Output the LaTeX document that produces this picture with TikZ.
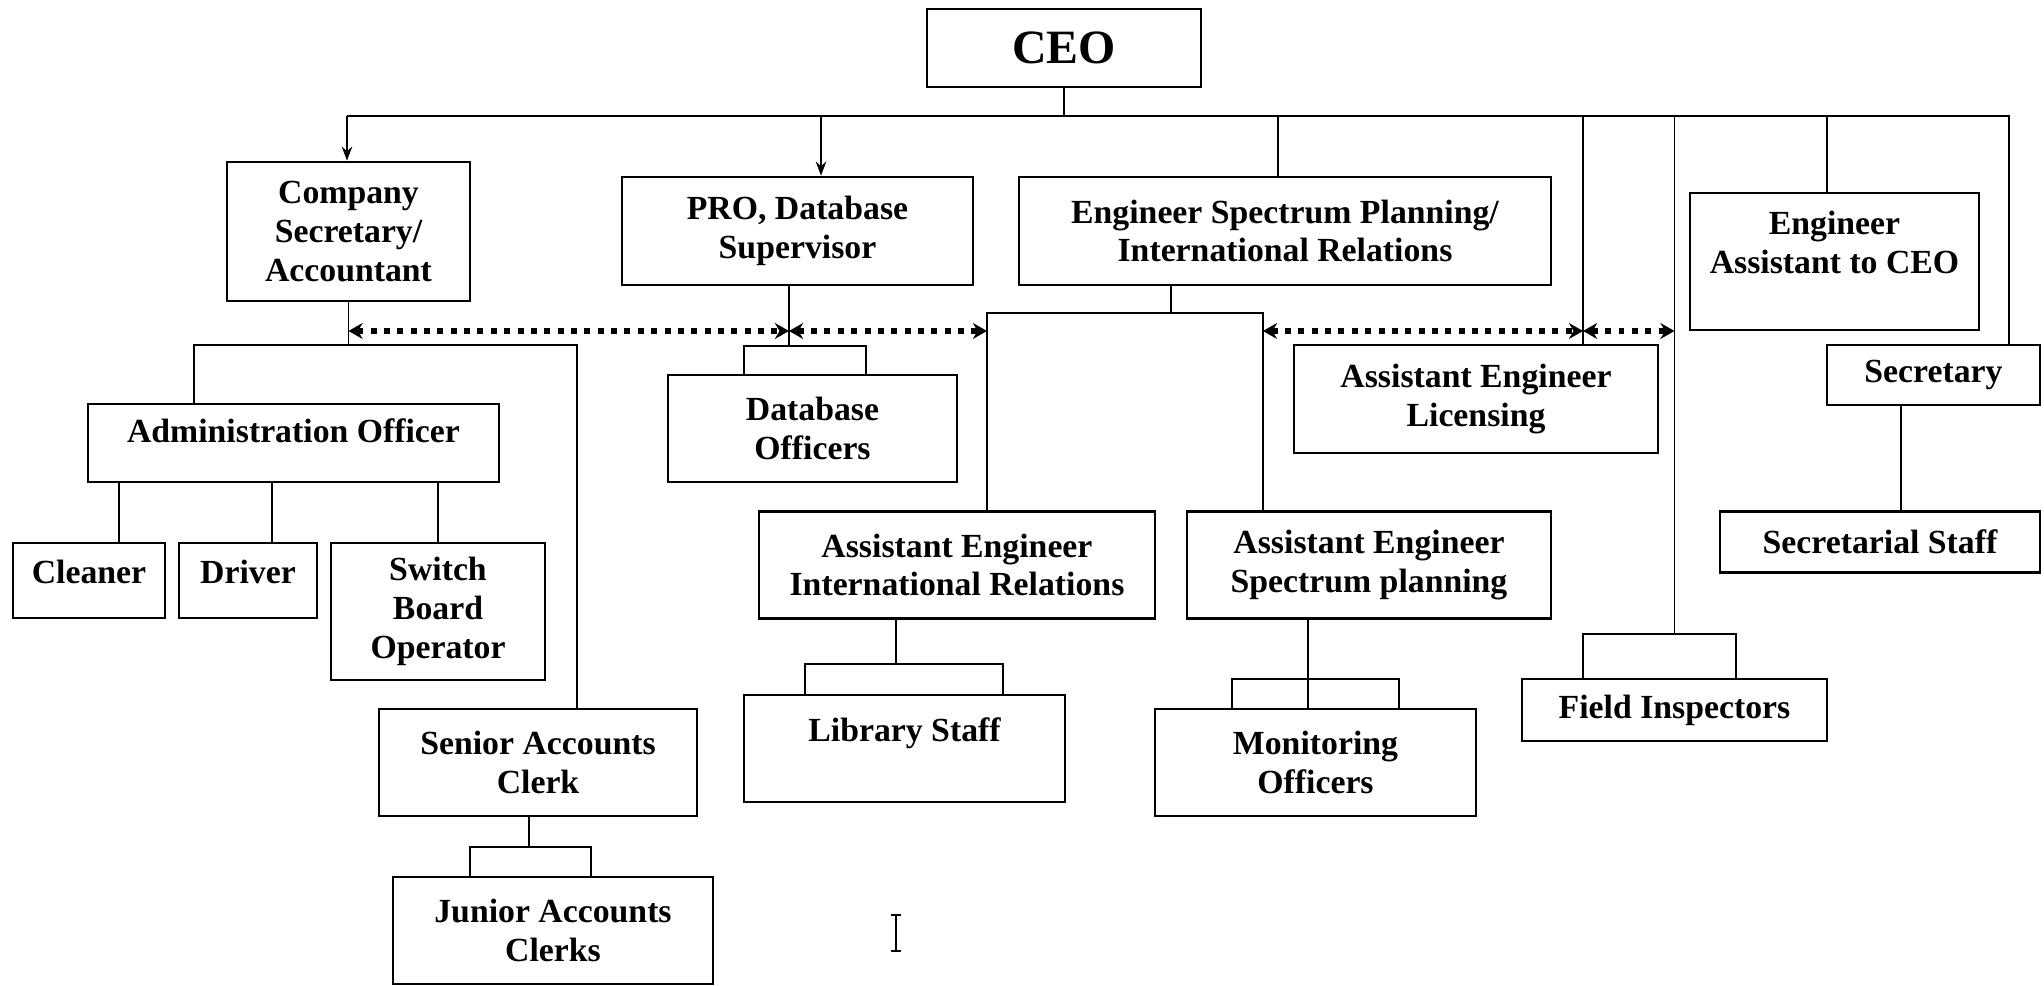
\documentclass[tikz,border=0pt]{standalone}
\usepackage{fontspec}
\setmainfont{Liberation Serif}
\usetikzlibrary{arrows.meta}
\tikzset{
  box/.style={draw,line width=0.75pt,rectangle,inner sep=0pt,align=center,font=\bfseries\fontsize{9.6}{11}\selectfont},
  wire/.style={line width=0.5pt},
  arrowin/.style={-{Stealth[length=4pt,width=3pt]}},
  link/.style={line width=1.6pt,dash pattern=on 1.7pt off 2.1pt,{Stealth[length=4pt,width=4.5pt]}-{Stealth[length=4pt,width=4.5pt]}}
}
\begin{document}
\begin{tikzpicture}[x=0.01cm,y=-0.01cm]
\useasboundingbox (0,0) rectangle (2044,986);
    %Cajas
    \node[box,font=\bfseries\fontsize{13.6}{16}\selectfont,minimum width=2.74cm,minimum height=0.78cm] (ceo) at (1064,48) {CEO};
    \node[box,minimum width=2.43cm,minimum height=1.39cm] (csa) at (348.5,231.5) {Company\\Secretary/\\Accountant};
    \node[box,minimum width=3.51cm,minimum height=1.08cm] (pro) at (797.5,231) {PRO, Database\\Supervisor};
    \node[box,minimum width=5.32cm,minimum height=1.08cm] (esp) at (1285,231) {Engineer Spectrum Planning/\\International Relations};
    \node[box,minimum width=2.89cm,minimum height=1.37cm] (eac) at (1834.5,261.5) {Engineer\\Assistant to CEO\\~};
    \node[box,minimum width=2.13cm,minimum height=0.60cm] (sec) at (1933.5,375) {Secretary};
    \node[box,minimum width=3.64cm,minimum height=1.08cm] (lic) at (1476,399) {Assistant Engineer\\Licensing};
    \node[box,minimum width=4.11cm,minimum height=0.78cm] (adm) at (293.5,443) {Administration Officer\\[-4pt]~};
    \node[box,minimum width=2.89cm,minimum height=1.07cm] (dbo) at (812.5,428.5) {Database\\Officers};
    \node[box,minimum width=1.52cm,minimum height=0.75cm] (cln) at (89,580.5) {Cleaner\\[-6pt]~};
    \node[box,minimum width=1.38cm,minimum height=0.75cm] (drv) at (248,580.5) {Driver\\[-6pt]~};
    \node[box,minimum width=2.14cm,minimum height=1.37cm] (sbo) at (438,611.5) {Switch\\Board\\Operator};
    \node[box,minimum width=3.18cm,minimum height=1.07cm] (sac) at (538,762.5) {Senior Accounts\\Clerk};
    \node[box,minimum width=3.20cm,minimum height=1.07cm] (jac) at (553,930.5) {Junior Accounts\\Clerks};
    \node[box,minimum width=3.96cm,minimum height=1.065cm] (aeir) at (957,565) {Assistant Engineer\\International Relations};
    \node[box,minimum width=3.64cm,minimum height=1.065cm] (aesp) at (1369,565) {Assistant Engineer\\Spectrum planning};
    \node[box,minimum width=3.21cm,minimum height=1.07cm] (lib) at (904.5,748.5) {Library Staff\\~};
    \node[box,minimum width=3.21cm,minimum height=1.07cm] (mon) at (1315.5,762.5) {Monitoring\\Officers};
    \node[box,minimum width=3.05cm,minimum height=0.62cm] (fin) at (1674.5,710) {Field Inspectors};
    \node[box,minimum width=3.20cm,minimum height=0.615cm] (sst) at (1880,542) {Secretarial Staff};

    %Linea del CEO
    \coordinate (bL) at (347,116);
    \coordinate (bR) at (2009,116);
    \coordinate (proIn) at ([xshift=0.235cm]pro.north);
    \coordinate (espIn) at ([xshift=-0.07cm]esp.north);
    \coordinate (licIn) at ([xshift=1.07cm]lic.north);
    \coordinate (eacIn) at ([xshift=-0.075cm]eac.north);
    \draw[wire] (ceo.south) -- (ceo.south |- bL);
    \draw[wire] (bL) -- (bR) -- (bR |- sec.north);
    \draw[wire,arrowin] (bL) -- (bL |- csa.north);
    \draw[wire,arrowin] (proIn |- bL) -- (proIn);
    \draw[wire] (espIn |- bL) -- (espIn);
    \draw[wire] (licIn |- bL) -- (licIn);
    \draw[wire] (eacIn |- bL) -- (eacIn);
    \draw[wire] (fin.north |- bL) -- (fin.north |- 0,634);

    %Contabilidad y administracion
    \coordinate (cBr) at (0,345);
    \coordinate (admIn) at ([xshift=-0.995cm]adm.north);
    \coordinate (sacIn) at ([xshift=0.39cm]sac.north);
    \draw[wire] (csa.south) -- (csa.south |- cBr);
    \draw[wire] (admIn) -- (admIn |- cBr) -- (sacIn |- cBr) -- (sacIn);
    \foreach \n/\d in {cln/0.3,drv/0.24,sbo/0}{
        \coordinate (t) at ([xshift=\d cm]\n.north);
        \draw[wire] (t) -- (t |- adm.south);
    }
    \coordinate (sacOut) at ([xshift=-0.09cm]sac.south);
    \coordinate (jacL) at ([xshift=-0.83cm]jac.north);
    \coordinate (jacR) at ([xshift=0.38cm]jac.north);
    \draw[wire] (sacOut) -- (sacOut |- 0,847);
    \draw[wire] (jacL) -- (jacL |- 0,847) -- (jacR |- 0,847) -- (jacR);

    %Base de datos
    \coordinate (proOut) at ([xshift=-0.085cm]pro.south);
    \coordinate (dboL) at ([xshift=-0.685cm]dbo.north);
    \coordinate (dboR) at ([xshift=0.535cm]dbo.north);
    \draw[wire] (proOut) -- (proOut |- 0,346);
    \draw[wire] (dboL) -- (dboL |- 0,346) -- (dboR |- 0,346) -- (dboR);

    %Ingenieria
    \coordinate (espOut) at ([xshift=-1.14cm]esp.south);
    \coordinate (aeirIn) at ([xshift=0.3cm]aeir.north);
    \coordinate (aespIn) at ([xshift=-1.06cm]aesp.north);
    \draw[wire] (espOut) -- (espOut |- 0,313);
    \draw[wire] (aeirIn) -- (aeirIn |- 0,313) -- (aespIn |- 0,313) -- (aespIn);
    \coordinate (aeirOut) at ([xshift=-0.61cm]aeir.south);
    \coordinate (libL) at ([xshift=-0.995cm]lib.north);
    \coordinate (libR) at ([xshift=0.985cm]lib.north);
    \draw[wire] (aeirOut) -- (aeirOut |- 0,664);
    \draw[wire] (libL) -- (libL |- 0,664) -- (libR |- 0,664) -- (libR);
    \coordinate (aespOut) at ([xshift=-0.61cm]aesp.south);
    \coordinate (monL) at ([xshift=-0.835cm]mon.north);
    \coordinate (monR) at ([xshift=0.835cm]mon.north);
    \draw[wire] (aespOut) -- (aespOut |- mon.north);
    \draw[wire] (monL) -- (monL |- 0,679) -- (monR |- 0,679) -- (monR);
    \coordinate (finL) at ([xshift=-0.915cm]fin.north);
    \coordinate (finR) at ([xshift=0.615cm]fin.north);
    \draw[wire] (finL) -- (finL |- 0,634) -- (finR |- 0,634) -- (finR);

    %Secretaria
    \coordinate (secOut) at ([xshift=-0.325cm]sec.south);
    \draw[wire] (secOut) -- (secOut |- sst.north);

    %Enlaces punteados
    \coordinate (dl) at (0,331);
    \draw[link] (csa.south |- dl) -- (proOut |- dl);
    \draw[link] (proOut |- dl) -- (aeirIn |- dl);
    \draw[link] (aespIn |- dl) -- (licIn |- dl);
    \draw[link] (licIn |- dl) -- (fin.north |- dl);

    %Cursor
    \draw[line width=0.5pt] (891,915) -- (901,915) (896,915) -- (896,951) (891,951) -- (901,951);
\end{tikzpicture}
\end{document}
